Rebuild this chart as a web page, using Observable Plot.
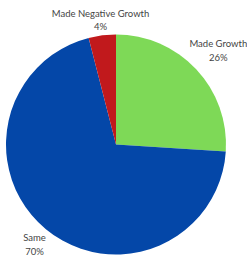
<!DOCTYPE html>
<html>
<head>
<meta charset="utf-8">
<script src="https://cdn.jsdelivr.net/npm/d3@7"></script>
<script src="https://cdn.jsdelivr.net/npm/@observablehq/plot@0.6"></script>
<style>
  html, body { margin: 0; padding: 0; background: #fff; }
  #chart svg { display: block; }
</style>
</head>
<body>
<div id="chart"></div>
<script>
const categories = ["Made Growth", "Same", "Made Negative Growth"];
const values = [26, 70, 4];
const labels = ["26%", "70%", "4%"];
const colors = ["#7ED957", "#0447A8", "#C1191C"];

const rows = categories.map((c, i) => ({category: c, value: values[i], label: labels[i], color: colors[i]}));
const arcs = d3.pie().sort(null).value(d => d.value)(rows);
const labelRadii = [1.27, 1.17, 1.16];
const labelRows = arcs.map((a, i) => {
  const m = (a.startAngle + a.endAngle) / 2;
  const lr = labelRadii[i];
  return {x: lr * Math.sin(m), y: lr * Math.cos(m), text: a.data.category + "\n" + a.data.label};
});

const pieMark = (index, scales) => {
  const cx = scales.x(0), cy = scales.y(0);
  const r = Math.abs(scales.x(1) - scales.x(0));
  const g = d3.create("svg:g").attr("transform", `translate(${cx},${cy})`);
  const arc = d3.arc().innerRadius(0).outerRadius(r);
  g.selectAll("path").data(arcs).join("path")
    .attr("d", arc)
    .attr("fill", d => d.data.color);
  return g.node();
};

const chart = Plot.plot({
  width: 247,
  height: 257,
  marginLeft: 6,
  marginRight: 21,
  marginTop: 35,
  marginBottom: 3,
  x: {domain: [-1, 1], axis: null},
  y: {domain: [-1, 1], axis: null},
  style: {fontFamily: "Lato, 'Open Sans', sans-serif", background: "#fff"},
  marks: [
    pieMark,
    Plot.text(labelRows, {
      x: "x", y: "y", text: "text",
      fontSize: 9.5, fill: "#444", lineHeight: 1.4
    })
  ]
});
document.getElementById("chart").appendChild(chart);
</script>
</body>
</html>
